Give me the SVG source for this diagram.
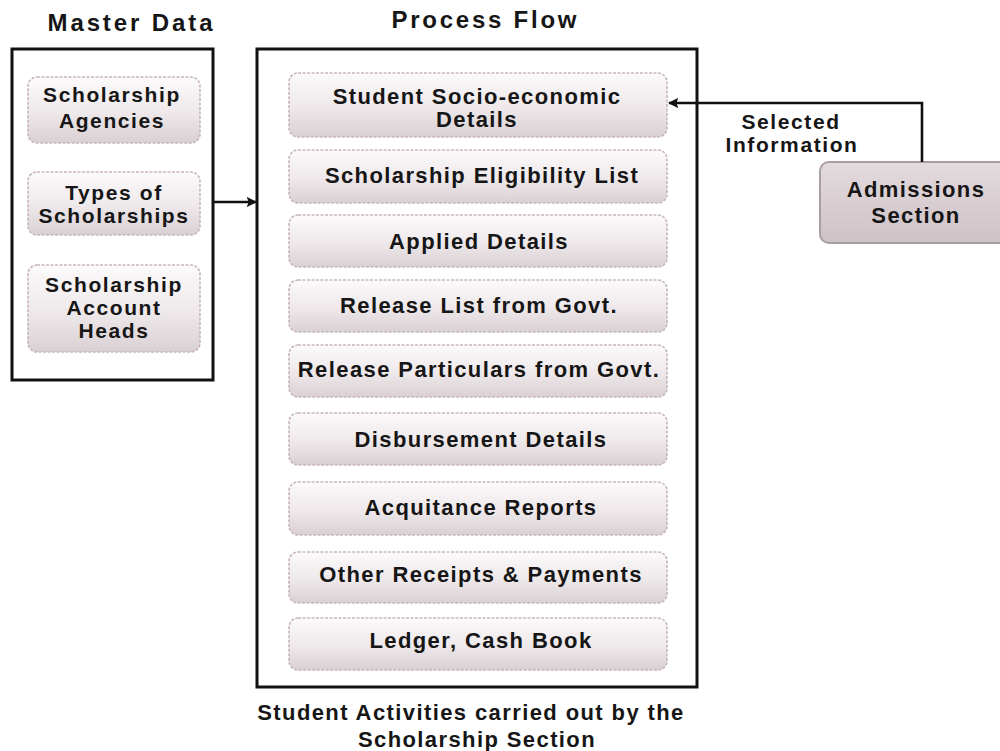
<svg xmlns="http://www.w3.org/2000/svg" width="1000" height="751" viewBox="0 0 1000 751">
<style>
text{font-family:"Liberation Sans",Arial,sans-serif;font-weight:bold;fill:#161616;text-anchor:middle;font-size:22px;letter-spacing:1.4px}
.m{font-size:21px;letter-spacing:1.6px}
.title{font-size:24px;letter-spacing:0}
.frame{fill:none;stroke:#111;stroke-width:3}
.item{fill:url(#gItem);stroke:#c7b6bb;stroke-width:1.6;stroke-dasharray:3 1.5}
.adm{fill:url(#gAdm);stroke:#a99ea2;stroke-width:2}
.conn{fill:none;stroke:#111;stroke-width:2.6}
</style>
<defs>
<linearGradient id="gItem" x1="0" y1="0" x2="0" y2="1">
<stop offset="0" stop-color="#fcfafb"/>
<stop offset="0.55" stop-color="#eee8ea"/>
<stop offset="1" stop-color="#d9d0d3"/>
</linearGradient>
<linearGradient id="gAdm" x1="0" y1="0" x2="0" y2="1">
<stop offset="0" stop-color="#e4dbde"/>
<stop offset="1" stop-color="#cdc2c5"/>
</linearGradient>
<marker id="arr" viewBox="0 0 10 10" refX="9" refY="5" markerWidth="4" markerHeight="4" orient="auto" markerUnits="strokeWidth">
<path d="M0,0 L10,5 L0,10 L2,5 Z" fill="#111"/>
</marker>
</defs>
<rect width="1000" height="751" fill="#ffffff"/>

<g id="master">
<text class="title" x="130" y="31" textLength="165">Master Data</text>
<rect class="frame" x="12" y="49" width="201" height="331"/>
</g>
<g id="agencies">
<rect class="item" x="28" y="77" width="172" height="66" rx="9"/>
<text class="m" x="112" y="102">Scholarship</text>
<text class="m" x="112" y="128">Agencies</text>
</g>
<g id="types">
<rect class="item" x="28" y="172" width="172" height="63" rx="9"/>
<text class="m" x="114" y="200">Types of</text>
<text class="m" x="114" y="223">Scholarships</text>
</g>
<g id="heads">
<rect class="item" x="28" y="265" width="172" height="87" rx="9"/>
<text class="m" x="114" y="292">Scholarship</text>
<text class="m" x="114" y="315">Account</text>
<text class="m" x="114" y="338">Heads</text>
</g>

<g id="process">
<text class="title" x="484" y="28" textLength="185">Process Flow</text>
<rect class="frame" x="257" y="49" width="440" height="638"/>
</g>
<g id="p1">
<rect class="item" x="289" y="73" width="378" height="64" rx="9"/>
<text x="477" y="104">Student Socio-economic</text>
<text x="477" y="127">Details</text>
</g>
<g id="p2">
<rect class="item" x="289" y="150" width="378" height="53" rx="9"/>
<text x="482" y="183">Scholarship Eligibility List</text>
</g>
<g id="p3">
<rect class="item" x="289" y="215" width="378" height="52" rx="9"/>
<text x="479" y="249">Applied Details</text>
</g>
<g id="p4">
<rect class="item" x="289" y="280" width="378" height="52" rx="9"/>
<text x="479" y="313">Release List from Govt.</text>
</g>
<g id="p5">
<rect class="item" x="289" y="345" width="378" height="52" rx="9"/>
<text x="479" y="377">Release Particulars from Govt.</text>
</g>
<g id="p6">
<rect class="item" x="289" y="413" width="378" height="52" rx="9"/>
<text x="481" y="447">Disbursement Details</text>
</g>
<g id="p7">
<rect class="item" x="289" y="482" width="378" height="53" rx="9"/>
<text x="481" y="515">Acquitance Reports</text>
</g>
<g id="p8">
<rect class="item" x="289" y="552" width="378" height="51" rx="9"/>
<text x="481" y="582">Other Receipts &amp; Payments</text>
</g>
<g id="p9">
<rect class="item" x="289" y="618" width="378" height="52" rx="9"/>
<text x="481" y="648">Ledger, Cash Book</text>
</g>
<g id="caption">
<text x="471" y="720">Student Activities carried out by the</text>
<text x="477" y="747">Scholarship Section</text>
</g>

<g id="admissions">
<rect class="adm" x="820" y="162" width="200" height="81" rx="9"/>
<text x="916" y="197">Admissions</text>
<text x="916" y="223">Section</text>
</g>

<g id="connectors">
<line class="conn" x1="214" y1="202" x2="256" y2="202" marker-end="url(#arr)"/>
<polyline class="conn" points="922,162 922,103 669,103" marker-end="url(#arr)"/>
<text class="m" x="791" y="129">Selected</text>
<text class="m" x="792" y="152">Information</text>
</g>
</svg>
